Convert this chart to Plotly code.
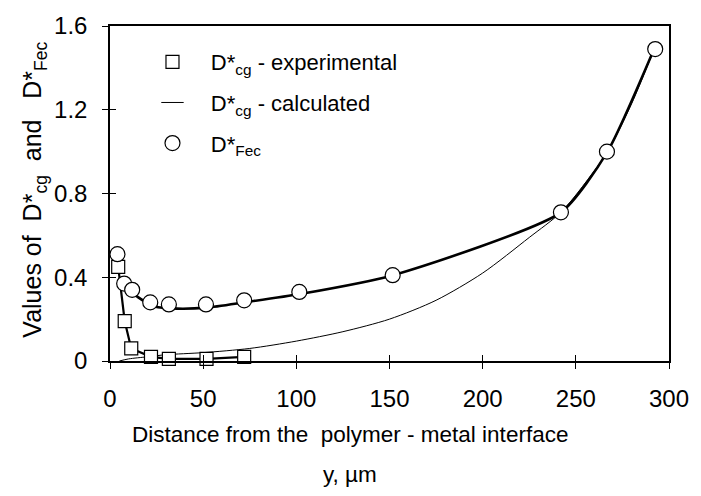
import plotly.graph_objects as go

# ---- data ----
x_exp = [4.4, 7.9, 11.4, 22, 31.6, 51.8, 72]
y_exp = [0.45, 0.19, 0.06, 0.02, 0.01, 0.01, 0.02]

x_calc = [5, 10, 20, 30, 50, 75, 100, 125, 150, 175, 200, 225, 242, 255, 267, 280, 292]
y_calc = [0.0, 0.01, 0.02, 0.03, 0.04, 0.06, 0.095, 0.14, 0.2, 0.29, 0.42, 0.59, 0.71, 0.85, 1.0, 1.23, 1.49]

x_fec = [4.0, 7.6, 11.9, 21.6, 31.6, 51.5, 72, 101.6, 151.7, 242, 266.7, 292.6]
y_fec = [0.51, 0.37, 0.34, 0.28, 0.27, 0.27, 0.29, 0.33, 0.41, 0.71, 1.0, 1.49]

x_fec_fit = [7.6, 15, 24, 36, 52, 72, 102, 152, 242, 267, 292]
y_fec_fit = [0.37, 0.305, 0.26, 0.25, 0.255, 0.28, 0.32, 0.41, 0.71, 1.0, 1.49]

x_ticks = [0, 50, 100, 150, 200, 250, 300]
x_ticktext = ["0", "50", "100", "150", "200", "250", "300"]
y_ticks = [0, 0.4, 0.8, 1.2, 1.6]
y_ticktext = ["0", "0.4", "0.8", "1.2", "1.6"]

FONT = "Liberation Sans, Arial, sans-serif"

fig = go.Figure()

# lines
fig.add_trace(go.Scatter(x=x_exp, y=y_exp, mode="lines",
                         line=dict(color="black", width=2.2), showlegend=False, hoverinfo="skip"))
fig.add_trace(go.Scatter(x=x_fec_fit, y=y_fec_fit, mode="lines",
                         line=dict(color="black", width=2.6, shape="spline", smoothing=0.6),
                         showlegend=False, hoverinfo="skip"))
fig.add_trace(go.Scatter(x=x_calc, y=y_calc, mode="lines",
                         line=dict(color="black", width=1, shape="spline", smoothing=0.8),
                         showlegend=False, hoverinfo="skip"))
# markers
fig.add_trace(go.Scatter(x=x_exp, y=y_exp, mode="markers", name="   D*<sub>cg</sub> - experimental",
                         marker=dict(symbol="square", size=13, color="white",
                                     line=dict(color="black", width=1.2)),
                         cliponaxis=False, legendrank=1, legendgroup="a"))
# legend entry for calculated curve (short line sample)
fig.add_trace(go.Scatter(x=[None], y=[None], mode="markers", name="   D*<sub>cg</sub> - calculated",
                         marker=dict(symbol="line-ew", size=16, color="black",
                                     line=dict(color="black", width=1)),
                         legendrank=2, legendgroup="b"))
fig.add_trace(go.Scatter(x=x_fec, y=y_fec, mode="markers", name="   D*<sub>Fec</sub>",
                         marker=dict(symbol="circle", size=15, color="white",
                                     line=dict(color="black", width=1.2)),
                         cliponaxis=False, legendrank=3, legendgroup="c"))

axis_common = dict(showgrid=False, zeroline=False, showline=True, linecolor="black",
                   linewidth=1.5, mirror=True, ticks="outside", tickcolor="black",
                   tickwidth=1.2, tickfont=dict(family=FONT, size=24, color="black"))

fig.update_layout(
    width=701, height=496, autosize=False,
    margin=dict(l=110, r=22, t=24, b=135),
    paper_bgcolor="white", plot_bgcolor="white",
    font=dict(family=FONT, color="black"),
    xaxis=dict(range=[0, 300], tickvals=x_ticks, ticktext=x_ticktext, ticklen=6,
               ticklabelstandoff=9, **axis_common),
    yaxis=dict(range=[0, 1.6], tickvals=y_ticks, ticktext=y_ticktext, ticklen=6,
               ticklabelstandoff=10, **axis_common),
    xaxis2=dict(range=[0, 300], overlaying="x", anchor="y", side="bottom", tickvals=x_ticks,
                showticklabels=False, ticks="inside", ticklen=6, tickwidth=1.2,
                tickcolor="black", showgrid=False, zeroline=False, showline=False),
    yaxis2=dict(range=[0, 1.6], overlaying="y", anchor="x", side="left", tickvals=y_ticks,
                showticklabels=False, ticks="inside", ticklen=6, tickwidth=1.2,
                tickcolor="black", showgrid=False, zeroline=False, showline=False),
    showlegend=True,
    legend=dict(x=0.076, y=0.955, xanchor="left", yanchor="top", bgcolor="rgba(0,0,0,0)",
                font=dict(family=FONT, size=22, color="black"), tracegroupgap=9),
    annotations=[
        dict(text="Distance from the  polymer - metal interface", xref="paper", yref="paper",
             x=0.43, y=-0.22, xanchor="center", yanchor="middle", showarrow=False,
             font=dict(family=FONT, size=22.5, color="black")),
        dict(text="y, \u00b5m", xref="paper", yref="paper",
             x=0.43, y=-0.338, xanchor="center", yanchor="middle", showarrow=False,
             font=dict(family=FONT, size=22.5, color="black")),
        dict(text="Values of  D*<sub>cg</sub>  and   D*<sub>Fec</sub>", xref="paper", yref="paper",
             x=-0.135, y=0.51, xanchor="center", yanchor="middle", textangle=-90, showarrow=False,
             font=dict(family=FONT, size=25, color="black")),
    ],
)

# dummy invisible trace to activate overlay axes
fig.add_trace(go.Scatter(x=[None], y=[None], xaxis="x2", yaxis="y2", showlegend=False, hoverinfo="skip"))

fig.write_html("out.html", config={"displayModeBar": False},
               post_script="document.body.style.margin='0';document.body.style.overflow='hidden';")
